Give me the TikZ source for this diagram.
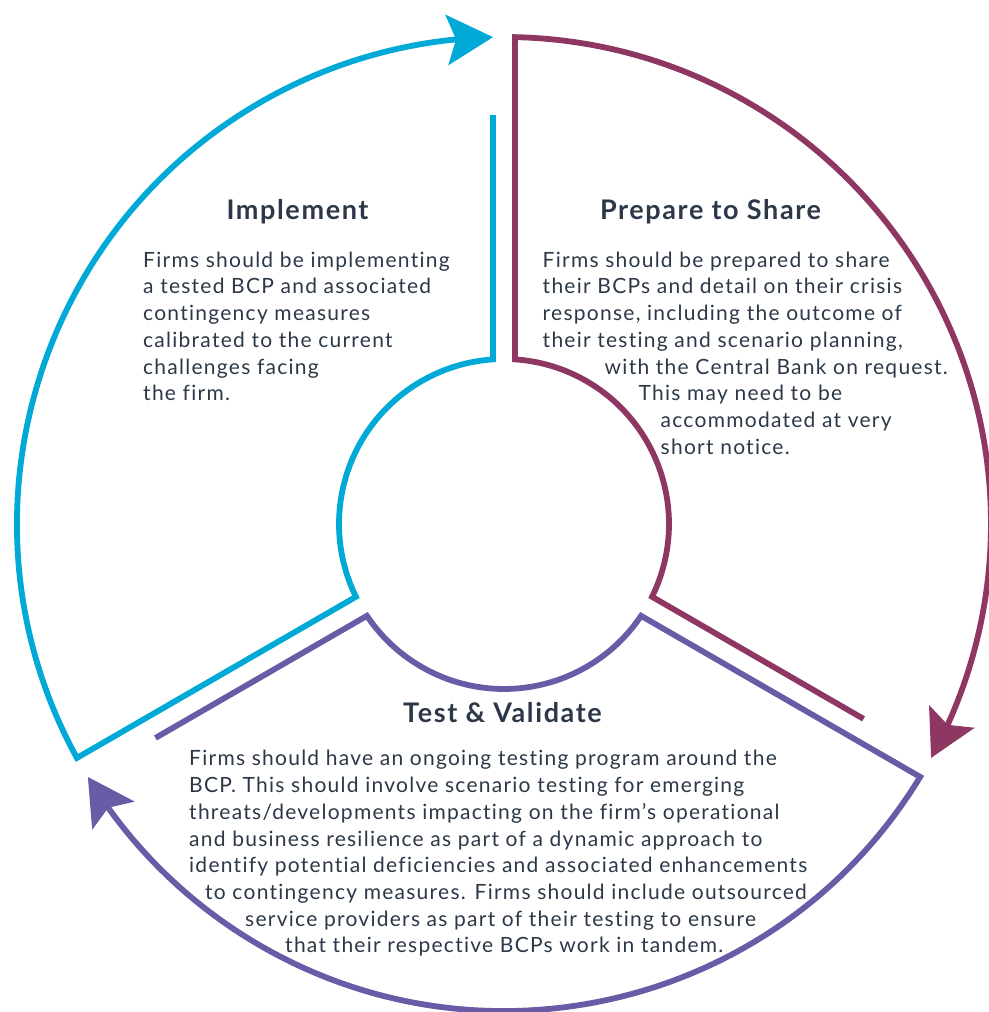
\documentclass[tikz,border=0pt]{standalone}
\usepackage{fontspec}
\setmainfont{Lato}[Ligatures=NoCommon]
\usetikzlibrary{arrows.meta,bending}

\definecolor{cycleblue}{HTML}{00A9D6}
\definecolor{cyclewine}{HTML}{8F3763}
\definecolor{cyclepurple}{HTML}{6A5BA6}
\definecolor{inktext}{HTML}{2C3848}

\begin{document}
\begin{tikzpicture}[
    x=1pt,
    y=1pt,
    sector/.style={line width=5.8pt,line join=miter,
        -{Stealth[length=46pt,width=50pt,inset=9pt,flex]}},
    heading/.style={font=\fontsize{27}{30}\selectfont\bfseries\addfontfeature{LetterSpace=6},
        text=inktext,inner sep=0pt,anchor=base},
    body/.style={font=\fontsize{21}{26}\selectfont\addfontfeature{LetterSpace=6},
        text=inktext,inner sep=0pt,anchor=base west}
]
    \useasboundingbox (0,0) rectangle (988,1012);

    % Sectors, each one runs clockwise from \a to \a-120
    \begin{scope}[shift={(504,488)}]
        \foreach \col/\a in {cycleblue/210,cyclewine/90,cyclepurple/-30}{
            \pgfmathsetmacro{\b}{\a-120}
            \draw[sector,\col] ({\b+1.54}:409) -- ({\b+3.82}:165)
                arc[start angle=\b+3.82,end angle=\a-3.82,radius=165]
                -- ({\a-1.29}:487)
                arc[start angle=\a-1.29,end angle=\b+1.29,radius=487];
        }
    \end{scope}

    % Implement
    \node[heading] (impl-head) at (297.5,792.7) {Implement};
    \foreach \txt [count=\i] in {Firms should be implementing,
        a tested BCP and associated,contingency measures,
        calibrated to the current,challenges facing,the firm.}{
        \node[body] (impl-\i) at (143,{744.7-26.7*(\i-1)}) {\txt};
    }

    % Prepare to Share
    \node[heading] (prep-head) at (710.5,792.7) {Prepare to Share};
    \foreach \dx/\txt [count=\i] in {0/Firms should be prepared to share,
        0/their BCPs and detail on their crisis,
        0/{response, including the outcome of},
        0/{their testing and scenario planning,},
        62/with the Central Bank on request.,
        96/This may need to be,
        118/accommodated at very,
        118/short notice.}{
        \node[body] (prep-\i) at ({542.5+\dx},{744.7-26.7*(\i-1)}) {\txt};
    }

    % Test & Validate
    \node[heading] (test-head) at (502.5,289) {Test \& Validate};
    \foreach \x/\txt [count=\i] in {189/{Firms should have an ongoing testing program around the},
        189/{BCP. This should involve scenario testing for emerging},
        189/{threats/developments impacting on the firm’s operational},
        189/{and business resilience as part of a dynamic approach to},
        189/{identify potential deficiencies and associated enhancements},
        205/{to contingency measures. Firms should include outsourced},
        245/{service providers as part of their testing to ensure},
        285/{that their respective BCPs work in tandem.}}{
        \node[body] (test-\i) at (\x,{246-26.7*(\i-1)}) {\txt};
    }
\end{tikzpicture}
\end{document}
